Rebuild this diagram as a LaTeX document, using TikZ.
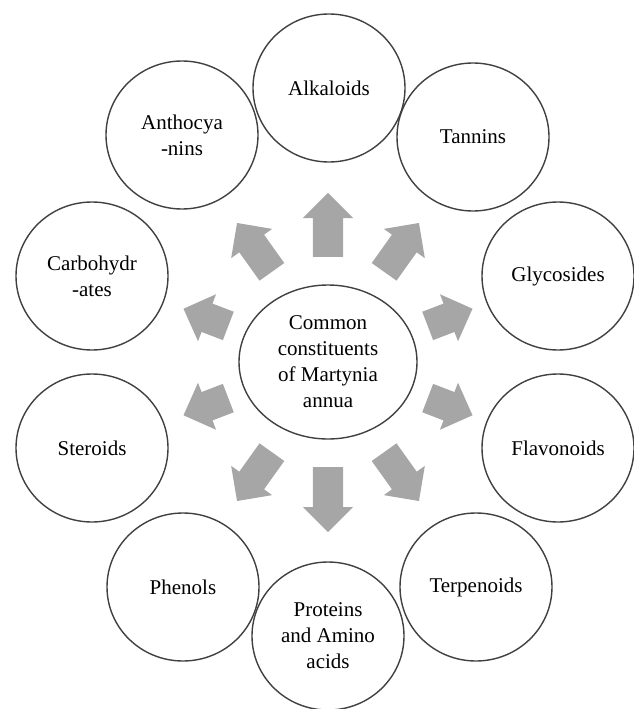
\documentclass[tikz,border=0pt]{standalone}
\usepackage{fontspec}
\setmainfont{Liberation Serif}
\usetikzlibrary{shapes.geometric,shapes.arrows,positioning}
\definecolor{ringgray}{HTML}{404040}
\definecolor{arrowgray}{HTML}{A6A6A6}

\begin{document}
\begin{tikzpicture}[
  x=1pt, y=-1pt,
  constit/.style={draw=ringgray, ellipse, line width=1.4pt,
                  minimum width=152pt, minimum height=148pt,
                  inner sep=0pt, align=center,
                  font=\fontsize{21}{26}\selectfont},
  hub/.style={constit, minimum width=178pt, minimum height=154pt},
  outarr/.style={single arrow, fill=arrowgray, draw=none,
                 inner xsep=0pt, inner ysep=15pt, minimum width=50pt,
                 single arrow head extend=10pt, anchor=tail}
]
  \useasboundingbox (0,0) rectangle (633,709);

  %% Components
  \node[hub] (hub) at (328,362) {Common\\constituents\\of Martynia\\annua};

  \node[constit] (alk)  at (329,88)  {Alkaloids};
  \node[constit] (tan)  at (473,137) {Tannins};
  \node[constit] (gly)  at (558,276) {Glycosides};
  \node[constit] (fla)  at (558,448) {Flavonoids};
  \node[constit] (ter)  at (476,587) {Terpenoids};
  \node[constit] (pro)  at (328,636) {Proteins\\and Amino\\acids};
  \node[constit] (phe)  at (183,587) {Phenols};
  \node[constit] (ste)  at (92,448)  {Steroids};
  \node[constit] (car)  at (92,276)  {Carbohydr\\-ates};
  \node[constit] (ant)  at (182,135) {Anthocya\\-nins};

  %% Arrows
  \node[outarr, rotate=90,     minimum height=64pt] (toalk) at (328,257)   {};
  \node[outarr, rotate=54.5,   minimum height=60pt] (totan) at (384,272)   {};
  \node[outarr, rotate=21,     minimum height=48pt] (togly) at (427.5,326) {};
  \node[outarr, rotate=-21,    minimum height=48pt] (tofla) at (427.5,398) {};
  \node[outarr, rotate=-54.5,  minimum height=60pt] (toter) at (384,452)   {};
  \node[outarr, rotate=-90,    minimum height=65pt] (topro) at (328,467)   {};
  \node[outarr, rotate=-125.5, minimum height=60pt] (tophe) at (272,452)   {};
  \node[outarr, rotate=-159,   minimum height=48pt] (toste) at (228.5,398) {};
  \node[outarr, rotate=159,    minimum height=48pt] (tocar) at (228.5,326) {};
  \node[outarr, rotate=125.5,  minimum height=60pt] (toant) at (272,272)   {};

\end{tikzpicture}
\end{document}
